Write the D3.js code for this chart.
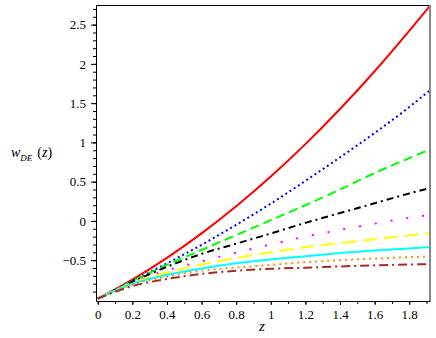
<!DOCTYPE html>
<html>
<head>
<meta charset="utf-8">
<script src="https://cdn.jsdelivr.net/npm/d3@7"></script>
<style>
  body { margin: 0; background: #fff; }
  svg { display: block; font-family: "Liberation Serif", "Times New Roman", serif; }
</style>
</head>
<body>
<svg width="436" height="338"></svg>
<script>
// z values shared by every curve
var zValues = [0, 0.2, 0.4, 0.6, 0.8, 1.0, 1.2, 1.4, 1.6, 1.8, 1.92]

// w_DE(z), one array per curve (top to bottom)
var redVals     = [-0.99, -0.747, -0.47, -0.159, 0.186, 0.565, 0.978, 1.425, 1.906, 2.421, 2.74]
var blueVals    = [-0.99, -0.765, -0.54, -0.305, -0.05, 0.22, 0.51, 0.81, 1.12, 1.45, 1.665]
var greenVals   = [-0.99, -0.765, -0.56, -0.37, -0.18, 0.01, 0.20, 0.40, 0.61, 0.80, 0.91]
var blackVals   = [-0.99, -0.775, -0.585, -0.42, -0.29, -0.16, -0.025, 0.10, 0.225, 0.35, 0.42]
var magentaVals = [-0.99, -0.78, -0.63, -0.515, -0.405, -0.30, -0.20, -0.115, -0.035, 0.04, 0.075]
var yellowVals  = [-0.99, -0.79, -0.66, -0.555, -0.47, -0.40, -0.335, -0.28, -0.235, -0.185, -0.155]
var cyanVals    = [-0.99, -0.80, -0.69, -0.607, -0.54, -0.49, -0.45, -0.41, -0.377, -0.35, -0.333]
var orangeVals  = [-0.99, -0.81, -0.71, -0.633, -0.595, -0.56, -0.525, -0.50, -0.48, -0.462, -0.452]
var brownVals   = [-0.99, -0.83, -0.74, -0.675, -0.635, -0.61, -0.595, -0.58, -0.566, -0.555, -0.55]

// tick labels
var xTickVals = [0, 0.2, 0.4, 0.6, 0.8, 1, 1.2, 1.4, 1.6, 1.8]
var yTickVals = [-0.5, 0, 0.5, 1, 1.5, 2, 2.5]

// line styles for each curve
var curves = [
    { vals: redVals,     color: '#ff0000', dash: null },
    { vals: blueVals,    color: '#0000ff', dash: '2,3' },
    { vals: greenVals,   color: '#00ff00', dash: '9,5' },
    { vals: blackVals,   color: '#000000', dash: '7,4,2,4' },
    { vals: magentaVals, color: '#ff00ff', dash: '2,14' },
    { vals: yellowVals,  color: '#ffff00', dash: '14,7' },
    { vals: cyanVals,    color: '#00ffff', dash: null },
    { vals: orangeVals,  color: '#ff8c1a', dash: '2,4' },
    { vals: brownVals,   color: '#a52a2a', dash: '9,4,2,4' }
]

// plot box in pixels (window.top is reserved, so no "top" here)
var plotLeft = 96, plotRight = 430, plotTop = 5, plotBottom = 301

var svg = d3.select("svg")

var xScale = d3.scaleLinear().domain([-0.01, 1.92]).range([plotLeft, plotRight])
var yScale = d3.scaleLinear().domain([-1.02, 2.75]).range([plotBottom, plotTop])

//clip so curves stay inside the frame
svg.append("clipPath").attr("id", "plotclip")
    .append("rect")
    .attr("x", plotLeft).attr("y", plotTop)
    .attr("width", plotRight - plotLeft).attr("height", plotBottom - plotTop)

var line = d3.line()
    .x(function (d) { return xScale(d[0]) })
    .y(function (d) { return yScale(d[1]) })
    .curve(d3.curveMonotoneX)

//draw the curves
svg.append("g")
    .attr("clip-path", "url(#plotclip)")
    .selectAll("path")
    .data(curves)
    .enter().append("path")
    .attr("d", function (c) { return line(zValues.map(function (z, i) { return [z, c.vals[i]] })) })
    .attr("fill", "none")
    .attr("stroke", function (c) { return c.color })
    .attr("stroke-width", 2)
    .attr("stroke-dasharray", function (c) { return c.dash })

//frame: top black, right grey
svg.append("line")
    .attr("x1", plotLeft).attr("x2", plotRight).attr("y1", plotTop + 0.5).attr("y2", plotTop + 0.5)
    .attr("stroke", "#000")
svg.append("line")
    .attr("x1", plotRight).attr("x2", plotRight).attr("y1", plotTop).attr("y2", plotBottom)
    .attr("stroke", "#888").attr("stroke-width", 2)

var fmt = function (d) { return d < 0 ? "\u2212" + Math.abs(d) : "" + d }

//x axis with minor ticks
var xMinor = d3.range(0, 1.95, 0.1)
svg.append("g")
    .attr("transform", "translate(0," + plotBottom + ")")
    .call(d3.axisBottom(xScale).tickValues(xMinor).tickSize(3).tickFormat(""))
    .call(function (g) { g.select(".domain").remove() })
svg.append("g")
    .attr("class", "xaxis")
    .attr("transform", "translate(0," + plotBottom + ")")
    .call(d3.axisBottom(xScale).tickValues(xTickVals).tickSize(4).tickPadding(5).tickFormat(fmt).tickSizeOuter(0))

//y axis with minor ticks
var yMinor = d3.range(-0.9, 2.75, 0.1)
svg.append("g")
    .attr("transform", "translate(" + plotLeft + ",0)")
    .call(d3.axisLeft(yScale).tickValues(yMinor).tickSize(3).tickFormat(""))
    .call(function (g) { g.select(".domain").remove() })
svg.append("g")
    .attr("class", "yaxis")
    .attr("transform", "translate(" + plotLeft + ",0)")
    .call(d3.axisLeft(yScale).tickValues(yTickVals).tickSize(5).tickPadding(5).tickFormat(fmt).tickSizeOuter(0))

svg.selectAll(".xaxis, .yaxis")
    .attr("font-family", "Liberation Serif, serif")
    .attr("font-size", 13)

//axis labels
svg.append("text")
    .attr("x", 262).attr("y", 331)
    .style("text-anchor", "middle")
    .style("font-style", "italic")
    .style("font-size", "15px")
    .text("z")

var ylab = svg.append("text")
    .attr("x", 11).attr("y", 157)
    .style("font-size", "14px")
ylab.append("tspan").style("font-style", "italic").text("w")
ylab.append("tspan").attr("dy", 4).style("font-style", "italic").style("font-size", "9px").text("DE")
ylab.append("tspan").attr("dy", -4).attr("dx", 5).text("(")
ylab.append("tspan").style("font-style", "italic").text("z")
ylab.append("tspan").text(")")
</script>
</body>
</html>
